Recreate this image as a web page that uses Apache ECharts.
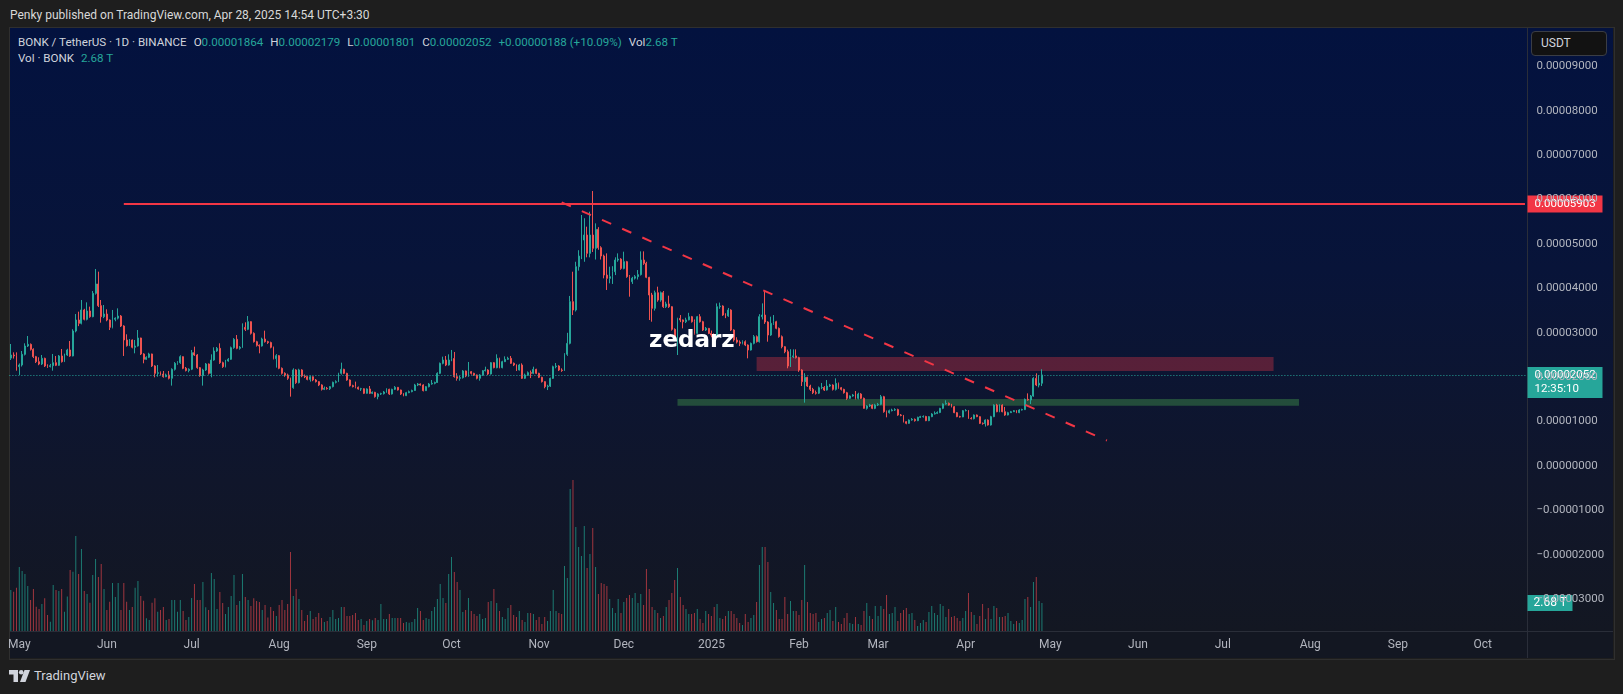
<!DOCTYPE html>
<html>
<head>
<meta charset="utf-8">
<script src="https://cdn.jsdelivr.net/npm/echarts@6/dist/echarts.min.js"></script>
<style>
html, body { margin: 0; padding: 0; width: 1623px; height: 694px; overflow: hidden; background: #1e1e1e; font-family: Roboto, "Noto Sans", sans-serif; }
#top { position: absolute; left: 10px; top: 7px; line-height: 16px; font-size: 12px; color: #d9d9d9; }
#frame { position: absolute; left: 9px; top: 27px; width: 1604px; height: 631px; border: 1px solid #2f2f2f; }
#panel { position: absolute; left: 10px; top: 28px; width: 1603px; height: 603px; background: linear-gradient(#03123f 0%, #081439 40%, #10162b 75%, #131722 100%); }
#timebar { position: absolute; left: 10px; top: 631px; width: 1603px; height: 27px; background: #131722; }
#hsep { position: absolute; left: 10px; top: 631px; width: 1603px; height: 1px; background: #2a2e39; }
#vsep { position: absolute; left: 1527px; top: 28px; width: 1px; height: 630px; background: #2a2e39; }
#legend { position: absolute; left: 18px; top: 34px; font-size: 11.6px; line-height: 16px; color: #d1d4dc; white-space: nowrap; }
#legend .v { color: #26a69a; }
#legend .g { margin-left: 7px; }
#usdt { position: absolute; left: 1531px; top: 31px; width: 76px; height: 25px; box-sizing: border-box; border: 1px solid #3a3d45; border-radius: 4px; background: #121212; color: #d1d4dc; font-size: 12px; line-height: 23px; padding-left: 9px; }
#logo { position: absolute; left: 9px; top: 668px; height: 16px; color: #d1d4dc; font-size: 13px; line-height: 16px; }
#logo svg { vertical-align: -2px; margin-right: 4px; }
#main { position: absolute; left: 0; top: 0; width: 1623px; height: 694px; }
</style>
</head>
<body>
<div id="top">Penky published on TradingView.com, Apr 28, 2025 14:54 UTC+3:30</div>
<div id="frame"></div>
<div id="panel"></div>
<div id="timebar"></div>
<div id="hsep"></div>
<div id="vsep"></div>
<div id="legend">
  <div>BONK / TetherUS · 1D · BINANCE<span class="g">O<span class="v">0.00001864</span></span><span class="g">H<span class="v">0.00002179</span></span><span class="g">L<span class="v">0.00001801</span></span><span class="g">C<span class="v">0.00002052</span></span><span class="g v">+0.00000188 (+10.09%)</span><span class="g">Vol<span class="v">2.68 T</span></span></div>
  <div>Vol · BONK <span class="v" style="margin-left:4px">2.68 T</span></div>
</div>
<div id="usdt">USDT</div>
<div id="logo"><svg width="21" height="12" viewBox="0 0 21 12"><path d="M0 0H9V12H4.5V4.5H0Z" fill="#d1d4dc"/><circle cx="12.2" cy="2.3" r="2.3" fill="#d1d4dc"/><path d="M15.5 0H21L16.5 12H11Z" fill="#d1d4dc"/></svg>TradingView</div>
<div id="main"></div>
<script>
// daily candles BONK/USDT, Apr 28 2024 .. Apr 28 2025, prices in 1e-8 USDT
var firstOpen = 2430;
var closes = [
  2500, 2480, 2237, 2275, 2515, 2703, 2740, 2628, 2463, 2350,
  2297, 2425, 2253, 2240, 2260, 2327, 2268, 2478, 2350, 2500,
  2613, 2478, 3040, 3288, 3213, 3514, 3303, 3491, 3363, 3889,
  4099, 3611, 3363, 3423, 3288, 3123, 3303, 3330, 3378, 3153,
  2838, 2710, 2838, 2673, 2703, 2883, 2523, 2403, 2448, 2523,
  2253, 2087, 2100, 2070, 2012, 2050, 1975, 2177, 2312, 2327,
  2463, 2200, 2150, 2180, 2553, 2500, 2215, 2035, 2162, 2297,
  2087, 2387, 2590, 2650, 2327, 2237, 2365, 2403, 2665, 2853,
  2650, 2673, 3123, 3078, 3251, 2988, 2800, 2718, 2703, 2860,
  2800, 2780, 2673, 2418, 2485, 2200, 2087, 2050, 1975, 1765,
  2163, 1877, 2163, 2027, 2012, 1950, 2010, 1937, 1900, 1825,
  1727, 1750, 1740, 1787, 1885, 1900, 2087, 2177, 2087, 1937,
  1810, 1787, 1772, 1735, 1740, 1637, 1735, 1637, 1660, 1562,
  1622, 1630, 1667, 1727, 1622, 1727, 1772, 1712, 1622, 1585,
  1652, 1675, 1700, 1825, 1847, 1825, 1697, 1787, 1847, 1862,
  1880, 2087, 2312, 2387, 2275, 2387, 2420, 2012, 1975, 1990,
  2140, 2027, 2125, 2087, 2050, 1975, 2050, 2147, 2162, 2072,
  2327, 2215, 2425, 2215, 2350, 2403, 2425, 2313, 2275, 2162,
  2275, 1975, 2050, 2102, 2087, 2177, 2087, 1997, 1900, 1787,
  1800, 1974, 2237, 2252, 2162, 2150, 2515, 2762, 3701, 3513,
  4489, 4729, 5090, 5202, 4789, 5202, 4902, 5330, 4917, 4729,
  4301, 4226, 4264, 4376, 4639, 4660, 4451, 4602, 4264, 4151,
  4230, 4264, 4310, 4639, 4564, 4249, 3851, 3551, 3903, 3738,
  3903, 3588, 3650, 3588, 3078, 2875, 3325, 3290, 3250, 3290,
  3363, 3250, 2987, 3363, 3250, 3063, 3100, 2987, 2950, 2913,
  3588, 3603, 3400, 3380, 3513, 3063, 2838, 2790, 2763, 2800,
  2725, 2612, 2762, 2913, 2800, 3363, 3400, 3243, 2950, 3213,
  3250, 3100, 2913, 2687, 2575, 2252, 2462, 2480, 2440, 2162,
  1899, 1997, 1801, 1726, 1651, 1640, 1764, 1770, 1711, 1801,
  1824, 1726, 1861, 1764, 1726, 1651, 1524, 1576, 1599, 1524,
  1621, 1524, 1298, 1351, 1374, 1298, 1374, 1389, 1561, 1223,
  1201, 1246, 1261, 1270, 1148, 1140, 998, 961, 1036, 1051,
  1021, 1096, 1111, 1115, 1021, 1111, 1171, 1186, 1205, 1298,
  1396, 1411, 1373, 1336, 1201, 1111, 1105, 1246, 1250, 1073,
  1065, 1148, 1111, 961, 955, 1036, 923, 1111, 1373, 1223,
  1373, 1223, 1148, 1201, 1223, 1246, 1201, 1261, 1270, 1501,
  1486, 1576, 1974, 1824, 1864, 2052
];
var highs = [
  2748, 2560, 2560, 2310, 2590, 2763, 2928, 2760, 2650, 2480,
  2448, 2500, 2440, 2290, 2300, 2523, 2478, 2500, 2635, 2530,
  2640, 2815, 3080, 3423, 3476, 3739, 3540, 3686, 3589, 3941,
  4437, 4377, 3739, 3626, 3529, 3300, 3514, 3348, 3551, 3400,
  3170, 2966, 2860, 2850, 2838, 3063, 2890, 2540, 2470, 2550,
  2530, 2270, 2275, 2130, 2140, 2080, 2140, 2200, 2340, 2360,
  2493, 2470, 2230, 2200, 2613, 2688, 2520, 2230, 2190, 2320,
  2310, 2515, 2673, 2680, 2763, 2350, 2390, 2430, 2690, 2880,
  2950, 2700, 3213, 3236, 3378, 3260, 3010, 2820, 2740, 2890,
  3048, 2820, 2800, 2690, 2520, 2500, 2220, 2110, 2080, 1990,
  2200, 2180, 2190, 2180, 2060, 2030, 2040, 2020, 1960, 1910,
  1840, 1790, 1780, 1800, 1900, 1930, 2100, 2327, 2190, 2100,
  1950, 1830, 1900, 1790, 1760, 1750, 1750, 1802, 1680, 1670,
  1640, 1650, 1690, 1750, 1740, 1740, 1800, 1780, 1720, 1640,
  1670, 1700, 1720, 1850, 1870, 1860, 1840, 1800, 1870, 1937,
  1900, 2110, 2330, 2463, 2478, 2515, 2613, 2568, 2090, 2030,
  2160, 2150, 2343, 2140, 2100, 2060, 2070, 2160, 2237, 2180,
  2340, 2340, 2515, 2440, 2370, 2470, 2460, 2478, 2330, 2290,
  2300, 2312, 2080, 2130, 2150, 2237, 2190, 2100, 2010, 1910,
  1830, 1990, 2260, 2320, 2270, 2200, 2540, 3000, 3830, 4376,
  4600, 4860, 5653, 5580, 5390, 5728, 6193, 5465, 5380, 4950,
  4760, 4789, 4489, 4500, 4700, 4789, 4680, 4827, 4620, 4300,
  4260, 4300, 4414, 4834, 4834, 4600, 4260, 3900, 3950, 4039,
  3930, 3941, 3700, 3836, 3600, 3100, 3340, 3400, 3300, 3340,
  3450, 3380, 3300, 3380, 3420, 3270, 3130, 3110, 3050, 2990,
  3663, 3680, 3620, 3440, 3560, 3530, 3080, 2900, 2830, 2830,
  2830, 2740, 2780, 2950, 2940, 3420, 3663, 3963, 3260, 3363,
  3400, 3270, 3120, 2940, 2700, 2620, 2630, 2627, 2627, 2460,
  2180, 2090, 2010, 1830, 1760, 1700, 1790, 1870, 1800, 1936,
  1850, 1840, 1974, 1880, 1780, 1740, 1670, 1590, 1620, 1689,
  1650, 1640, 1540, 1370, 1400, 1390, 1400, 1420, 1600, 1580,
  1250, 1270, 1290, 1300, 1290, 1170, 1150, 1010, 1050, 1080,
  1070, 1110, 1130, 1140, 1130, 1125, 1190, 1230, 1230, 1310,
  1410, 1480, 1430, 1400, 1350, 1215, 1130, 1260, 1280, 1260,
  1100, 1160, 1160, 1120, 980, 1050, 1050, 1130, 1390, 1400,
  1390, 1390, 1330, 1220, 1240, 1260, 1260, 1280, 1290, 1520,
  1636, 1600, 2000, 2087, 2049, 2179
];
var lows = [
  2388, 2420, 2147, 2050, 2240, 2490, 2680, 2600, 2430, 2320,
  2270, 2275, 2230, 2210, 2220, 2147, 2250, 2255, 2330, 2340,
  2480, 2460, 2470, 3010, 3150, 3190, 3280, 3280, 3340, 3350,
  3860, 3580, 3228, 3330, 3260, 3063, 3100, 3260, 3300, 3130,
  2478, 2690, 2700, 2650, 2538, 2690, 2500, 2313, 2390, 2430,
  2230, 1997, 2012, 2040, 1990, 2000, 1950, 1810, 2150, 2280,
  2300, 2180, 2130, 2110, 2160, 2480, 2190, 2010, 1810, 2140,
  2060, 1997, 2370, 2570, 2300, 2210, 2220, 2350, 2390, 2640,
  2630, 2620, 2660, 3040, 3060, 2960, 2780, 2690, 2538, 2690,
  2780, 2750, 2650, 2400, 2215, 2180, 2060, 2010, 1940, 1562,
  1740, 1850, 1860, 2000, 1980, 1930, 1900, 1910, 1880, 1800,
  1700, 1710, 1720, 1712, 1770, 1860, 1890, 2060, 2070, 1920,
  1790, 1770, 1750, 1720, 1690, 1620, 1630, 1620, 1620, 1540,
  1502, 1600, 1610, 1650, 1600, 1610, 1710, 1700, 1600, 1570,
  1575, 1640, 1660, 1690, 1800, 1810, 1680, 1690, 1770, 1830,
  1840, 1870, 2070, 2290, 2250, 2260, 2360, 1990, 1922, 1922,
  1970, 2000, 2010, 2060, 2030, 1950, 1922, 2030, 2130, 2050,
  2060, 2200, 2200, 2200, 2200, 2340, 2390, 2300, 2250, 2140,
  2150, 1960, 1960, 2030, 1980, 2070, 2070, 1980, 1880, 1750,
  1711, 1780, 1960, 2200, 2140, 2120, 2140, 2480, 2740, 3400,
  3480, 4400, 4660, 4600, 4700, 4700, 4820, 4650, 4870, 4650,
  4226, 3964, 4114, 4100, 4300, 4600, 4420, 4430, 4240, 3813,
  4100, 4200, 4200, 4290, 4530, 4230, 3288, 3250, 3500, 3700,
  3700, 3560, 3560, 3560, 3050, 2850, 2500, 3240, 3100, 3220,
  3280, 3230, 2960, 2980, 3230, 3040, 3040, 2970, 2900, 2880,
  2900, 3540, 3380, 3330, 3360, 3040, 2800, 2760, 2700, 2740,
  2700, 2425, 2600, 2740, 2780, 2780, 3300, 3200, 2800, 2930,
  3180, 3080, 2890, 2650, 2540, 2200, 2230, 2430, 2420, 2120,
  1801, 1426, 1780, 1690, 1620, 1610, 1620, 1730, 1690, 1700,
  1780, 1700, 1700, 1740, 1700, 1630, 1490, 1510, 1560, 1500,
  1500, 1510, 1290, 1270, 1330, 1280, 1280, 1350, 1370, 1200,
  1096, 1180, 1230, 1240, 1130, 1120, 980, 940, 950, 1020,
  1000, 1010, 1080, 1090, 1010, 1010, 1100, 1160, 1170, 1190,
  1280, 1380, 1360, 1320, 1190, 1100, 1090, 1100, 1230, 1060,
  1050, 1050, 1100, 945, 930, 886, 910, 910, 1100, 1210,
  1210, 1210, 1130, 1140, 1200, 1215, 1190, 1190, 1250, 1260,
  1470, 1396, 1560, 1800, 1771, 1801
];
// volume in trillions of BONK
var volumes = [
  3.93, 3.76, 4.15, 6.12, 5.74, 5.46, 4.30, 2.96, 4.02, 2.32,
  2.10, 2.59, 3.13, 1.53, 0.89, 4.40, 3.93, 3.83, 4.02, 1.85,
  3.29, 5.83, 5.68, 9.09, 5.46, 7.85, 3.83, 3.54, 2.71, 5.36,
  6.89, 5.16, 6.40, 4.02, 2.00, 2.81, 4.59, 3.26, 4.59, 2.00,
  4.59, 2.81, 2.00, 2.30, 4.15, 4.79, 3.35, 2.90, 1.21, 1.06,
  2.71, 3.13, 1.85, 2.00, 2.30, 1.06, 1.14, 2.96, 2.96, 1.85,
  2.96, 1.91, 1.06, 1.34, 3.16, 4.50, 2.96, 2.96, 4.69, 2.27,
  2.00, 5.55, 4.97, 2.10, 3.73, 2.67, 1.63, 2.30, 3.35, 5.36,
  2.49, 2.87, 5.46, 3.26, 2.96, 2.39, 3.13, 2.87, 2.77, 2.00,
  2.49, 1.28, 2.30, 1.91, 1.43, 2.49, 2.96, 2.00, 2.59, 7.56,
  3.35, 4.02, 3.06, 2.00, 0.96, 1.53, 1.91, 1.14, 1.34, 1.73,
  1.24, 0.86, 0.96, 1.34, 2.00, 1.14, 1.24, 2.30, 2.30, 1.43,
  1.43, 1.53, 1.73, 1.06, 1.14, 0.57, 0.96, 1.14, 1.02, 1.24,
  1.06, 2.59, 1.14, 1.14, 1.63, 1.24, 1.24, 1.24, 1.24, 0.77,
  0.86, 0.79, 0.86, 1.14, 2.20, 1.91, 1.06, 1.24, 1.14, 1.91,
  2.30, 3.06, 4.50, 3.16, 2.67, 5.46, 7.09, 5.64, 4.69, 3.93,
  1.82, 2.00, 3.16, 1.91, 1.63, 1.43, 1.63, 1.14, 1.24, 2.77,
  2.87, 4.02, 2.67, 1.91, 1.34, 1.14, 2.20, 2.49, 1.53, 1.34,
  1.91,
  1.06, 0.86, 1.73, 1.73, 1.63, 1.06, 1.34, 0.67, 1.34, 0.96,
  1.91, 3.93, 1.91, 1.73, 1.63, 6.22, 5.07, 13.59, 14.45, 9.95,
  8.03, 7.17, 10.05, 6.03, 7.36, 9.86, 6.12, 3.54, 4.59, 4.50,
  4.30, 3.06, 2.20, 1.73, 3.06, 1.73, 2.77, 3.16, 3.44, 3.16,
  3.63, 2.67, 3.54, 2.49, 5.93, 4.02, 2.30, 2.00, 1.73, 1.24,
  1.43, 2.30, 2.96, 3.63, 4.89, 6.03, 3.26, 2.49, 2.10, 1.63,
  1.63, 1.73, 2.10, 1.14, 0.77, 1.91, 1.63, 1.43, 2.30, 2.59,
  1.24, 1.14, 1.43, 1.91, 1.91, 1.63, 1.24, 0.77, 0.57, 1.63,
  0.86, 1.24, 1.53, 2.77, 6.32, 8.03, 8.03, 6.60, 3.73, 2.67,
  2.00, 1.14, 1.14, 3.26, 1.63, 2.87, 1.91, 1.91, 1.53, 2.96,
  6.32, 2.77, 1.73, 1.63, 1.73, 0.86, 1.14, 1.24, 1.73, 2.00,
  0.96, 2.30, 0.86, 0.67, 1.24, 1.73, 0.77, 0.67, 1.34, 0.67,
  0.57, 1.91, 2.67, 1.43, 1.14, 2.39, 1.43, 2.39, 2.10, 3.44,
  1.63, 1.73, 2.30, 0.96, 1.73, 2.00, 2.20, 1.63, 1.73, 1.06,
  0.47, 0.77, 1.06, 0.86, 1.82, 2.39, 1.73, 1.53, 2.59, 2.39,
  1.34, 2.10, 1.34, 1.43, 1.24, 0.96, 1.24, 1.91, 3.63, 1.82,
  1.53, 0.67, 1.43, 2.59, 1.14, 2.20, 1.14, 2.39, 2.20, 1.34,
  1.34, 1.43, 1.73, 0.96, 0.67, 0.96, 0.77, 1.06, 3.06, 3.26,
  2.30, 4.69, 5.16, 2.87,
  2.68
];
var lastPrice = 2052;
var lastVolume = 2.68;
var resistance = 5903;
var redZone = [2140, 2455];
var greenZone = [1358, 1509];
var trendEnds = [5939, 574];
var monthNames = ['Jan', 'Feb', 'Mar', 'Apr', 'May', 'Jun', 'Jul', 'Aug', 'Sep', 'Oct', 'Nov', 'Dec'];

var UP = '#26a69a', DOWN = '#ef5350';
var FONT = 'Roboto, "Noto Sans", sans-serif';

// day categories, empty days to the right like the TradingView screen
var cats = [];
var start = Date.UTC(2024, 3, 28);
for (var i = 0; i < 537; i++) {
    var dt = new Date(start + i * 86400000);
    cats.push(dt.toISOString().slice(0, 10));
}

var candles = [];
var volData = [];
for (var i = 0; i < closes.length; i++) {
    var o = i == 0 ? firstOpen : closes[i - 1];   // 24h market: open = prior close
    candles.push([o, closes[i], lows[i], highs[i]]);
    volData.push({
        value: volumes[i],
        itemStyle: { color: closes[i] >= o ? '#1c7b72' : '#a0363f' }
    });
}

function priceFmt(v) {
    var s = (Math.abs(v) / 1e8).toFixed(8);
    return (v < 0 ? '\u2212' : '') + s;
}

var chart = echarts.init(document.getElementById('main'), null, { renderer: 'canvas' });

var option = {
    animation: false,
    backgroundColor: 'transparent',
    grid: [
        { left: 9.4, width: 1517, top: 22, height: 621.6 },
        { left: 9.4, width: 1517, top: 442.9, height: 188.1 }
    ],
    xAxis: [
        { type: 'category', gridIndex: 0, data: cats, boundaryGap: true, show: false },
        {
            type: 'category', gridIndex: 1, data: cats, boundaryGap: true,
            axisLine: { show: false },
            axisTick: { show: false },
            splitLine: { show: false },
            axisLabel: {
                color: '#b2b5be', fontSize: 12, fontFamily: FONT, margin: 8,
                interval: function (idx, val) { return val.slice(8) == '01'; },
                formatter: function (val) {
                    var m = parseInt(val.slice(5, 7), 10);
                    return m == 1 ? val.slice(0, 4) : monthNames[m - 1];
                }
            }
        }
    ],
    yAxis: [
        {
            type: 'value', gridIndex: 0, position: 'right',
            min: -4000, max: 10000, interval: 1000,
            axisLine: { show: false }, axisTick: { show: false },
            splitLine: { show: false },
            axisLabel: {
                color: '#b2b5be', fontSize: 11.5, fontFamily: FONT, margin: 10,
                showMinLabel: false, showMaxLabel: false,
                formatter: priceFmt
            }
        },
        { type: 'value', gridIndex: 1, min: 0, max: 18, show: false }
    ],
    series: [
        {
            type: 'bar', name: 'Vol', xAxisIndex: 1, yAxisIndex: 1,
            data: volData, barWidth: 1
        },
        {
            type: 'candlestick', name: 'BONK', xAxisIndex: 0, yAxisIndex: 0,
            data: candles, barWidth: 1.4,
            itemStyle: { color: UP, color0: DOWN, borderColor: UP, borderColor0: DOWN, borderWidth: 1 },
            markArea: {
                silent: true,
                data: [
                    [{ xAxis: cats[264], yAxis: redZone[1], itemStyle: { color: 'rgba(242,54,69,0.33)' } },
                     { xAxis: cats[447], yAxis: redZone[0] }],
                    [{ xAxis: cats[236], yAxis: greenZone[1], itemStyle: { color: 'rgba(76,175,80,0.36)' } },
                     { xAxis: cats[456], yAxis: greenZone[0] }]
                ]
            },
            markLine: {
                silent: true, symbol: ['none', 'none'], label: { show: false },
                data: [
                    { yAxis: lastPrice, lineStyle: { color: UP, width: 1, type: [1, 2] } },
                    [{ coord: [cats[40], resistance], lineStyle: { color: '#f23645', width: 2, type: 'solid' } },
                     { coord: [cats[536], resistance] }],
                    [{ coord: [cats[195], trendEnds[0]], lineStyle: { color: '#f23645', width: 2, type: [10, 12] } },
                     { coord: [cats[388], trendEnds[1]] }]
                ]
            }
        }
    ]
};
chart.setOption(option);

// price-scale tags, placed from the axes
function tag(y, h, w, color, text) {
    return {
        type: 'group', x: 1527.5, y: y - h / 2, z: 50,
        children: [
            { type: 'rect', shape: { x: 0, y: 0, width: w, height: h }, style: { fill: color } },
            { type: 'text', x: 7, y: h / 2, style: { text: text, fill: '#ffffff', font: '11.5px ' + FONT, verticalAlign: 'middle', lineHeight: 14 } }
        ]
    };
}
var yRes = chart.convertToPixel({ yAxisIndex: 0 }, resistance);
var yLast = chart.convertToPixel({ yAxisIndex: 0 }, lastPrice);
var yVol = chart.convertToPixel({ yAxisIndex: 1 }, lastVolume);
chart.setOption({
    graphic: [
        tag(yRes, 17, 75, '#f23645', priceFmt(resistance)),
        tag(yLast + 7.5, 31, 75, UP, priceFmt(lastPrice) + '\n12:35:10'),
        {
            type: 'group', x: 1527.5, y: yVol - 8, z: 50,
            children: [
                { type: 'rect', shape: { x: 0, y: 0, width: 45, height: 16 }, style: { fill: UP } },
                { type: 'text', x: 6, y: 8, style: { text: lastVolume + ' T', fill: '#ffffff', font: '12px ' + FONT, verticalAlign: 'middle' } }
            ]
        },
        {
            type: 'text', x: 649, y: 341, z: 40,
            style: { text: 'zedarz', fill: '#ffffff', font: 'bold 23px "DejaVu Sans", sans-serif', verticalAlign: 'middle' }
        }
    ]
});
</script>
</body>
</html>
